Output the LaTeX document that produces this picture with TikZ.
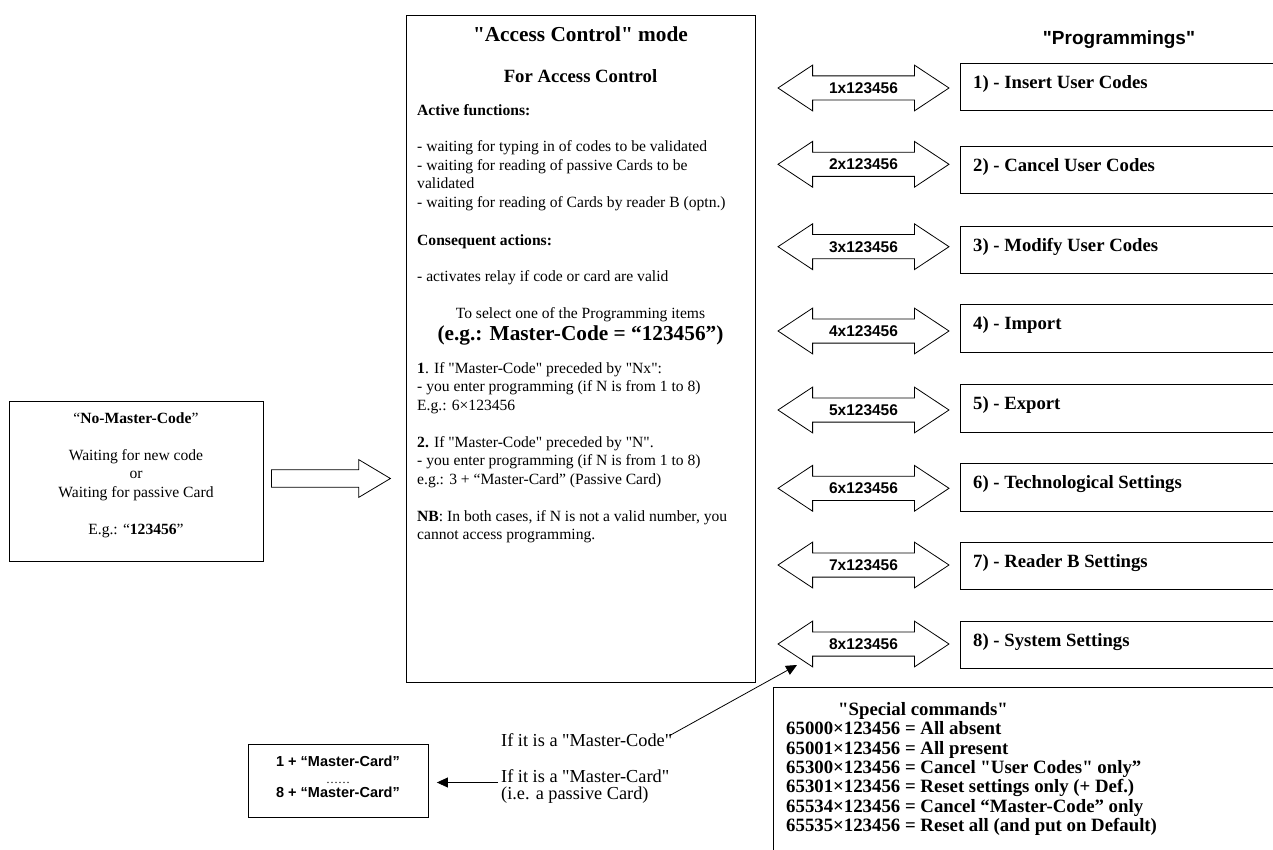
\documentclass[tikz,border=0pt]{standalone}
\usepackage{fontspec}
\setmainfont{Liberation Serif}[Ligatures=TeXOff]
\setsansfont{Liberation Sans}[Ligatures=TeXOff]
\usetikzlibrary{shapes.arrows,arrows.meta,positioning}

\tikzset{
  box/.style={draw, line width=0.9pt, inner sep=0pt},
  txt/.style={anchor=base west, inner sep=0pt, font=\fontsize{15.6}{18.5}\selectfont},
  ctxt/.style={anchor=base, inner sep=0pt, font=\fontsize{15.6}{18.5}\selectfont},
  bigtxt/.style={anchor=base, inner sep=0pt, font=\bfseries\fontsize{21.3}{24}\selectfont},
  progtxt/.style={anchor=base west, inner sep=0pt, font=\bfseries\fontsize{18.7}{22}\selectfont},
  spctxt/.style={anchor=base west, inner sep=0pt, font=\bfseries\fontsize{18.8}{20}\selectfont},
  cardtxt/.style={anchor=base, inner sep=0pt, font=\sffamily\bfseries\fontsize{14.5}{16}\selectfont},
  notetxt/.style={anchor=base west, inner sep=0pt, font=\fontsize{18.3}{18}\selectfont},
  codearrow/.style={double arrow, draw, line width=0.8pt, minimum height=171pt,
    text height=11pt, text depth=0pt, inner xsep=2pt, inner ysep=6.2pt,
    double arrow head extend=10.8pt, double arrow tip angle=67,
    font=\sffamily\bfseries\fontsize{15.5}{18}\selectfont},
  bigarrow/.style={single arrow, draw, line width=0.8pt, minimum height=119pt,
    text height=0pt, text depth=0pt, inner xsep=0pt, inner ysep=8.3pt,
    single arrow head extend=10.2pt, single arrow tip angle=61.6},
  pointer/.style={-{Triangle[length=11pt,width=10pt]}, line width=0.8pt},
}

\begin{document}
\begin{tikzpicture}[x=1pt, y=-1pt]
  \clip (0,0) rectangle (1273,850);

  % waiting state
  \node[box, anchor=north west, minimum width=254pt, minimum height=160pt] (nomaster) at (9,401) {};
  \node[ctxt] (nmc) at (136,423) {“\textbf{No-Master-Code}”};
  \node[ctxt] (wait1) at (136,460) {Waiting for new code};
  \node[ctxt] (wait2) at (136,478.5) {or};
  \node[ctxt] (wait3) at (136,497) {Waiting for passive Card};
  \node[ctxt] (wait4) at (136,534) {E.g.: “\textbf{123456}”};

  \node[bigarrow, anchor=tail] (tomode) at (271,478.5) {};

  % access control mode
  \node[box, anchor=north west, minimum width=349pt, minimum height=667pt] (mode) at (406,15) {};
  \node[bigtxt] (modetitle) at (580.5,42) {"Access Control" mode};
  \node[ctxt, font=\bfseries\fontsize{18.7}{22}\selectfont] (modesub) at (580.5,83) {For Access Control};
  \node[ctxt] (select) at (580.5,318.5) {To select one of the Programming items};
  \node[bigtxt] (example) at (580.5,340.5) {(e.g.: Master-Code = “123456”)};
  \foreach \y/\t [count=\k] in {
      115.5/{\textbf{Active functions:}},
      152/{- waiting for typing in of codes to be validated},
      170.5/{- waiting for reading of passive Cards to be},
      189/{validated},
      207.5/{- waiting for reading of Cards by reader B (optn.)},
      245/{\textbf{Consequent actions:}},
      281.5/{- activates relay if code or card are valid},
      373/{\textbf{1}. If "Master-Code" preceded by "Nx":},
      391.5/{- you enter programming (if N is from 1 to 8)},
      410/{E.g.: 6×123456},
      447/{\textbf{2.} If "Master-Code" preceded by "N".},
      465.5/{- you enter programming (if N is from 1 to 8)},
      484/{e.g.: 3 + “Master-Card” (Passive Card)},
      521/{\textbf{NB}: In both cases, if N is not a valid number, you},
      539.5/{cannot access programming.}}
    \node[txt] (body\k) at (417,\y) {\t};

  % programmings
  \node[anchor=center, inner sep=0pt, font=\sffamily\bfseries\fontsize{19}{22}\selectfont] (progs) at (1119,40) {"Programmings"};
  \foreach \i/\top/\ay/\t in {1/62.7/88/Insert User Codes, 2/145.7/164.3/Cancel User Codes,
      3/225.7/246.7/Modify User Codes, 4/304.3/331/Import, 5/384.3/410/Export,
      6/463.3/488.3/Technological Settings, 7/541.7/565/Reader B Settings,
      8/620.7/644/System Settings} {
    \node[box, anchor=north west, minimum width=340pt, minimum height=47.6pt] (prog\i) at (960,\top) {};
    \node[progtxt] (progt\i) at (973,\top+25.5) {\i) - \t};
    \node[codearrow] (code\i) at (863.5,\ay) {\i x123456};
  }

  % special commands
  \node[box, anchor=north west, minimum width=520pt, minimum height=200pt] (special) at (773,687) {};
  \node[spctxt] (spctitle) at (838,715) {"Special commands"};
  \foreach \y/\t [count=\k] in {
      734.5/{65000×123456 = All absent},
      754/{65001×123456 = All present},
      773.4/{65300×123456 = Cancel "User Codes" only”},
      792.9/{65301×123456 = Reset settings only (+ Def.)},
      812.3/{65534×123456 = Cancel “Master-Code” only},
      831.7/{65535×123456 = Reset all (and put on Default)}}
    \node[spctxt] (spc\k) at (786,\y) {\t};

  % master code / master card
  \node[notetxt] (ifcode) at (501,746) {If it is a "Master-Code"};
  \node[notetxt] (ifcard) at (501,782.5) {If it is a "Master-Card"};
  \node[notetxt] (ifcard2) at (501,799.5) {(i.e. a passive Card)};

  \node[box, anchor=north west, minimum width=180pt, minimum height=73pt] (cards) at (248,744) {};
  \node[cardtxt] (card1) at (338,766) {1 + “Master-Card”};
  \node[ctxt, font=\fontsize{12}{14}\selectfont] (carddots) at (338,783.5) {\dots\dots};
  \node[cardtxt] (card8) at (338,797.7) {8 + “Master-Card”};

  \draw[pointer] ([xshift=-3pt,yshift=4pt]ifcode.east) -- ([shift={(-66.5pt,-21pt)}]code8.center);
  \draw[pointer] ([xshift=-3pt]ifcard.base west) -- ([xshift=8pt]cards.east |- ifcard.base west);

\end{tikzpicture}
\end{document}
